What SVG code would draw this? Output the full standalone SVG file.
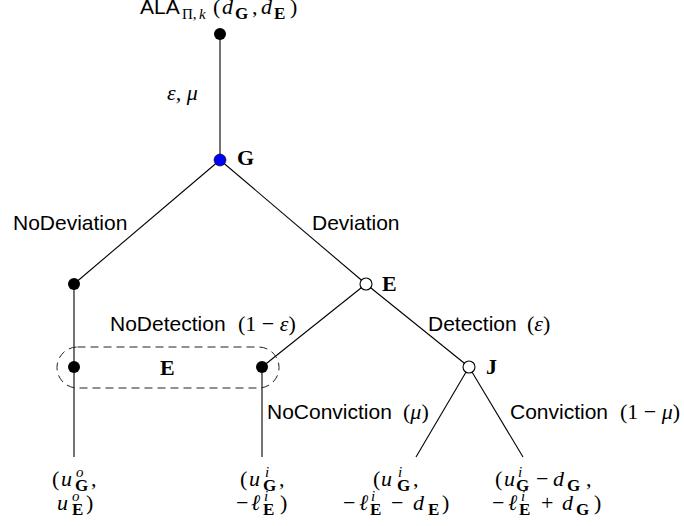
<svg xmlns="http://www.w3.org/2000/svg" width="684" height="526" viewBox="0 0 684 526">
<style>
.sf{font-family:"Liberation Sans",Arial,sans-serif;font-size:21px;fill:#000}
.m{font-family:"Liberation Serif","Times New Roman",serif;font-size:22px;fill:#000}
.i{font-style:italic}
.b{font-weight:bold}
.s{font-size:15px}
.sb{font-size:17px;font-weight:bold;font-style:normal}
.edge{stroke:#000;stroke-width:1.1;fill:none}
.dot{fill:#000}
.open{fill:#fff;stroke:#000;stroke-width:1.1}
.blue{fill:#0000ff;stroke:#000;stroke-width:0.6}
.info{fill:none;stroke:#222;stroke-width:1;stroke-dasharray:8 5}
</style>
<rect width="684" height="526" fill="#fff"/>

<g id="connectors">
<line class="edge" x1="220" y1="34" x2="220" y2="160"/>
<line class="edge" x1="220" y1="160" x2="74" y2="284"/>
<line class="edge" x1="220" y1="160" x2="366" y2="284"/>
<line class="edge" x1="74" y1="284" x2="74" y2="367"/>
<line class="edge" x1="74" y1="367" x2="74" y2="457"/>
<line class="edge" x1="366" y1="284" x2="262" y2="367"/>
<line class="edge" x1="366" y1="284" x2="469" y2="367"/>
<line class="edge" x1="262" y1="367" x2="262" y2="457"/>
<line class="edge" x1="469" y1="367" x2="416" y2="457"/>
<line class="edge" x1="469" y1="367" x2="523" y2="457"/>
</g>

<g id="edge-labels">
<text class="m i" x="167" y="100">ε, μ</text>
<text class="sf" x="13" y="230">NoDeviation</text>
<text class="sf" x="312" y="230">Deviation</text>
<text class="sf" x="110" y="331">NoDetection</text>
<text class="m" x="238" y="331">(1 − <tspan class="i">ε</tspan>)</text>
<text class="sf" x="428" y="331">Detection</text>
<text class="m" x="527" y="331">(<tspan class="i">ε</tspan>)</text>
<text class="sf" x="267" y="419">NoConviction</text>
<text class="m" x="403" y="419">(<tspan class="i">μ</tspan>)</text>
<text class="sf" x="510" y="419">Conviction</text>
<text class="m" x="620" y="419">(1 − <tspan class="i">μ</tspan>)</text>
</g>

<g id="infoset">
<rect class="info" x="57" y="347" width="222" height="41" rx="20.5" ry="20.5"/>
<text class="m b" x="160" y="375">E</text>
</g>

<g id="root">
<circle class="dot" cx="220" cy="34" r="6"/>
<text class="sf" x="140" y="14">ALA</text>
<text class="m" y="19"><tspan class="s" x="182">Π,</tspan><tspan class="s i" x="199">k</tspan></text>
<text class="m" y="14"><tspan x="213">(</tspan><tspan class="i" x="222">d</tspan><tspan x="252">,</tspan><tspan class="i" x="261">d</tspan><tspan x="290">)</tspan></text>
<text class="m sb" y="19"><tspan x="235">G</tspan><tspan x="274">E</tspan></text>
</g>

<g id="nodeG">
<circle class="blue" cx="220" cy="160" r="6"/>
<text class="m b" x="237" y="165">G</text>
</g>

<g id="nodeNoDev">
<circle class="dot" cx="74" cy="284" r="6"/>
</g>

<g id="nodeE">
<circle class="open" cx="366" cy="284" r="6"/>
<text class="m b" x="382" y="291">E</text>
</g>

<g id="nodeE1">
<circle class="dot" cx="74" cy="367" r="6"/>
</g>

<g id="nodeE2">
<circle class="dot" cx="262" cy="367" r="6"/>
</g>

<g id="nodeJ">
<circle class="open" cx="469" cy="367" r="6"/>
<text class="m b" x="486" y="374">J</text>
</g>

<g id="leaf1">
<text class="m" y="486"><tspan x="52">(</tspan><tspan class="i" x="61">u</tspan><tspan x="91">,</tspan></text>
<text class="m i s" x="76" y="477">o</text>
<text class="m sb" x="75" y="491">G</text>
<text class="m" y="510"><tspan class="i" x="57">u</tspan><tspan x="86">)</tspan></text>
<text class="m i s" x="72" y="501">o</text>
<text class="m sb" x="72" y="515">E</text>
</g>

<g id="leaf2">
<text class="m" y="486"><tspan x="240">(</tspan><tspan class="i" x="249">u</tspan><tspan x="279">,</tspan></text>
<text class="m i s" x="265" y="477">i</text>
<text class="m sb" x="263" y="491">G</text>
<text class="m" y="510"><tspan x="236">−</tspan><tspan class="i" x="251">ℓ</tspan><tspan x="280">)</tspan></text>
<text class="m i s" x="264" y="501">i</text>
<text class="m sb" x="263" y="515">E</text>
</g>

<g id="leaf3">
<text class="m" y="486"><tspan x="373">(</tspan><tspan class="i" x="381">u</tspan><tspan x="413">,</tspan></text>
<text class="m i s" x="398" y="477">i</text>
<text class="m sb" x="397" y="491">G</text>
<text class="m" y="510"><tspan x="343">−</tspan><tspan class="i" x="359">ℓ</tspan><tspan x="391">−</tspan><tspan class="i" x="413">d</tspan><tspan x="442">)</tspan></text>
<text class="m i s" x="371" y="501">i</text>
<text class="m sb" x="370" y="515">E</text>
<text class="m sb" x="428" y="515">E</text>
</g>

<g id="leaf4">
<text class="m" y="486"><tspan x="495">(</tspan><tspan class="i" x="504">u</tspan><tspan x="536">−</tspan><tspan class="i" x="553">d</tspan><tspan x="586">,</tspan></text>
<text class="m i s" x="518" y="477">i</text>
<text class="m sb" x="516" y="491">G</text>
<text class="m sb" x="567" y="491">G</text>
<text class="m" y="510"><tspan x="492">−</tspan><tspan class="i" x="508">ℓ</tspan><tspan x="541">+</tspan><tspan class="i" x="562">d</tspan><tspan x="594">)</tspan></text>
<text class="m i s" x="521" y="501">i</text>
<text class="m sb" x="519" y="515">E</text>
<text class="m sb" x="576" y="515">G</text>
</g>
</svg>
